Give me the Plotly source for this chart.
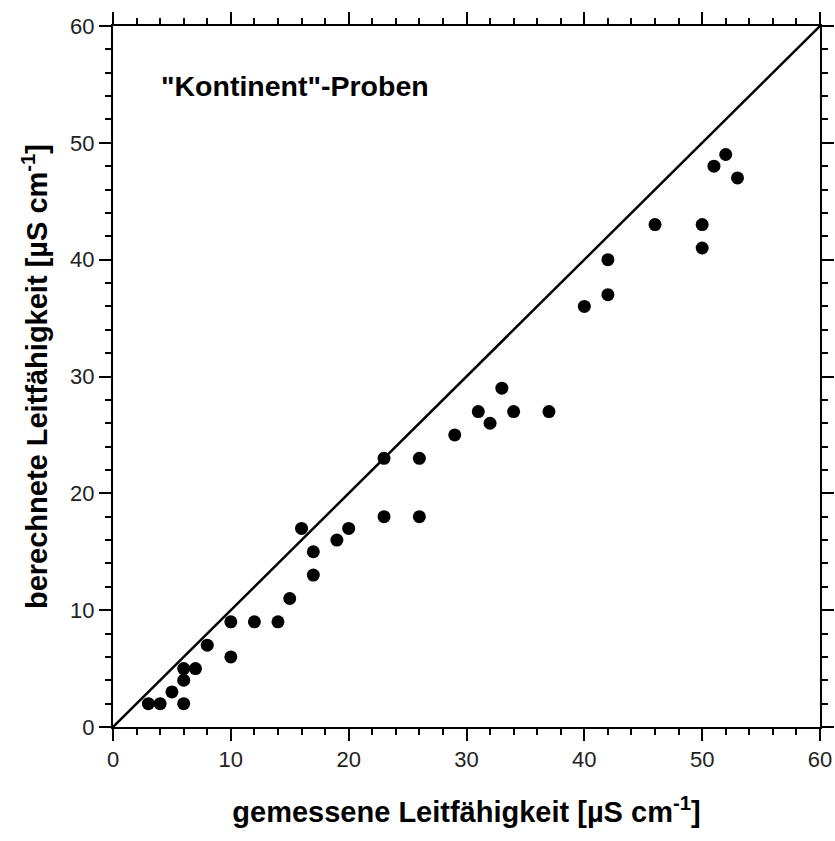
import plotly.graph_objects as go

# measured conductivity (x) and calculated conductivity (y), µS/cm
gemessen = [3, 4, 5, 6, 6, 6, 7, 8, 10, 10, 12, 14, 15, 16, 17, 17, 19, 20,
            23, 23, 26, 26, 29, 31, 32, 33, 34, 37, 40, 42, 42, 46, 50, 50, 51, 52, 53]
berechnet = [2, 2, 3, 2, 4, 5, 5, 7, 9, 6, 9, 9, 11, 17, 15, 13, 16, 17,
             23, 18, 23, 18, 25, 27, 26, 29, 27, 27, 36, 40, 37, 43, 43, 41, 48, 49, 47]
diag = [0, 60]

FONT = "Liberation Sans, Arial, sans-serif"

fig = go.Figure()
fig.add_trace(go.Scatter(x=diag, y=diag, mode="lines",
                         line=dict(color="black", width=2.5), showlegend=False))
fig.add_trace(go.Scatter(x=gemessen, y=berechnet, mode="markers",
                         marker=dict(color="black", size=13), showlegend=False))

axis_common = dict(
    range=[0, 60], dtick=10, showgrid=False, zeroline=False, automargin=False,
    showline=True, linecolor="black", linewidth=2, mirror="allticks",
    ticks="outside", ticklen=12, tickwidth=2, tickcolor="black",
    tickfont=dict(family=FONT, size=22, color="#222"),
    minor=dict(dtick=2, ticks="outside", ticklen=6, tickwidth=2, tickcolor="black"),
)

fig.update_layout(
    width=835, height=841,
    margin=dict(l=113, r=15, t=26, b=114),
    plot_bgcolor="white", paper_bgcolor="white",
    xaxis=dict(**axis_common,
               title=dict(text="<b>gemessene Leitfähigkeit [µS cm<sup>-1</sup>]</b>",
                          font=dict(family=FONT, size=29, color="black"), standoff=30)),
    yaxis=dict(**axis_common,
               title=dict(text="<b>berechnete Leitfähigkeit [µS cm<sup>-1</sup>]</b>",
                          font=dict(family=FONT, size=29, color="black"), standoff=14)),
    annotations=[dict(x=3.9, y=54.9, xref="x", yref="y", xanchor="left", yanchor="middle",
                      text="<b>\"Kontinent\"-Proben</b>", showarrow=False,
                      font=dict(family=FONT, size=28.5, color="black"))],
)

fig.write_html("out.html")
